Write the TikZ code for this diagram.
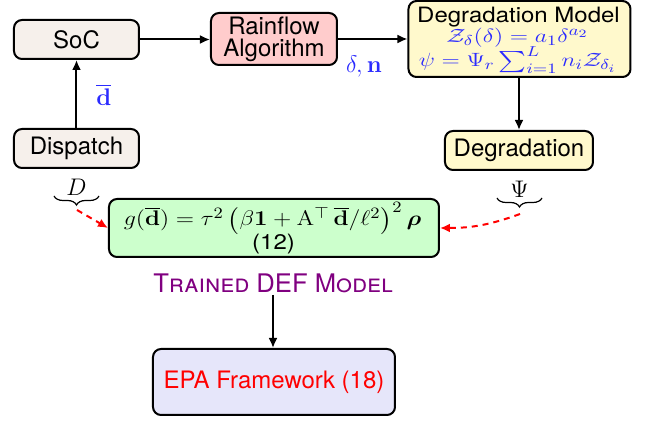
\documentclass[tikz,border=0pt]{standalone}
\usepackage{amsmath,amssymb,bm}
\usepackage[no-math]{fontspec}
\setmainfont{TeX Gyre Heros}
\usetikzlibrary{arrows.meta,decorations.pathreplacing}
\definecolor{socfill}{HTML}{F6F0EB}
\definecolor{rainfill}{HTML}{FFCCCC}
\definecolor{degfill}{HTML}{FFF9CC}
\definecolor{greenfill}{HTML}{CCFFCC}
\definecolor{epafill}{HTML}{E6E6FA}
\definecolor{trainpurple}{HTML}{800080}
\definecolor{mathblue}{HTML}{2B2BFF}
\begin{document}
\begin{tikzpicture}[x=0.5pt,y=0.5pt,
  font=\fontsize{12}{14}\selectfont,
  box/.style={draw, line width=1pt, rounded corners=4pt, align=center, inner sep=0pt},
  plain/.style={inner sep=0pt, align=center},
  arr/.style={-{Latex[length=5pt,width=4.5pt]}, line width=1pt},
  redarr/.style={-{Latex[length=5pt,width=4.5pt]}, line width=1pt, red, dash pattern=on 3pt off 2.5pt},
  bracestyle/.style={decorate, decoration={brace, amplitude=4.5pt, mirror}, line width=0.6pt},
  bluelab/.style={text=mathblue, inner sep=0pt, font=\fontsize{12}{14}\selectfont}]
\useasboundingbox (0,0) rectangle (645,-422);

% boxes
\node[box, fill=socfill, minimum width=62.5pt, minimum height=19.5pt] (soc) at (76.5,-39.5) {SoC};
\node[box, fill=rainfill, minimum width=63pt, minimum height=26pt, font=\fontsize{12}{11}\selectfont] (rain) at (274,-39) {Rainflow\\Algorithm};
\node[box, fill=degfill, minimum width=111pt, minimum height=38pt] (degmodel) at (519.5,-39) {};
\begin{scope}[shift={(518.5,-22.5)}, yscale=0.88, transform shape]
  \node[plain, anchor=base] (dmtitle) at (0,0) {Degradation Model};
\end{scope}
\begin{scope}[shift={(517.5,-42.5)}, yscale=0.8, transform shape]
  \node[plain, anchor=base, text=mathblue, font=\fontsize{13.2}{14}\selectfont] (dmeq1) at (0,0) {$\mathcal{Z}_{\delta}(\delta) = a_1\delta^{a_2}$};
\end{scope}
\begin{scope}[shift={(517.5,-66.5)}, yscale=0.8, transform shape]
  \node[plain, anchor=base, text=mathblue, font=\fontsize{13.2}{14}\selectfont] (dmeq2) at (0,0) {$\psi = \Psi_r \sum_{i=1}^{L} n_i \mathcal{Z}_{\delta_i}$};
\end{scope}
\node[box, fill=socfill, minimum width=62.5pt, minimum height=19.5pt] (dispatch) at (76.5,-148.5) {Dispatch};
\node[box, fill=degfill, minimum width=74pt, minimum height=19.5pt] (degr) at (519,-150.5) {Degradation};
\node[box, fill=greenfill, minimum width=165pt, minimum height=29pt] (green) at (274,-228) {};
\begin{scope}[shift={(272.5,-226)}, yscale=0.88, transform shape]
  \node[plain, anchor=base, font=\fontsize{12.8}{14}\selectfont] (geq) at (0,0)
    {$g(\overline{\mathbf{d}}) = \tau^2 \mathinner{\bigl(\beta\mathbf{1} + \mathrm{A}^{\top}\,\overline{\mathbf{d}}/\ell^2\bigr)}^2 \bm{\rho}$};
\end{scope}
\begin{scope}[shift={(273.5,-250)}, yscale=0.88, transform shape]
  \node[plain, anchor=base] (gnum) at (0,0) {(12)};
\end{scope}
\node[text=trainpurple, inner sep=1pt, font=\fontsize{12.8}{14}\selectfont] (trained) at (273,-283) {\textsc{Trained DEF Model}};
\node[box, fill=epafill, minimum width=121pt, minimum height=33pt, text=red] (epa) at (274,-382) {EPA Framework (18)};

% connectors
\draw[arr] (soc.east) -- (rain.west |- soc.east);
\draw[arr] (rain.east) -- (degmodel.west |- rain.east);
\draw[arr] (dispatch.north) -- (soc.south);
\draw[arr] (degr.north |- degmodel.south) -- (degr.north);
\draw[arr] (trained.south) -- (trained.south |- epa.north);

\node[bluelab] (dlab) at (104,-95) {$\overline{\mathbf{d}}$};
\node[bluelab] (dnlab) at (364,-67) {$\delta,\mathbf{n}$};

% braces
\coordinate (Dl) at (54,-196);
\coordinate (Dr) at (99,-196);
\draw[bracestyle] (Dl) -- (Dr);
\node[plain] (Dtext) at (76.5,-187) {$D$};
\coordinate (Dtip) at (77,-210);

\coordinate (Pl) at (497,-198);
\coordinate (Pr) at (542,-198);
\draw[bracestyle] (Pl) -- (Pr);
\node[plain] (Ptext) at (519.5,-189) {$\Psi$};
\coordinate (Ptip) at (520,-214);

\draw[redarr] (Dtip) -- (green.west);
\draw[redarr] (Ptip) to[out=-160,in=0] (green.east);
\end{tikzpicture}
\end{document}
